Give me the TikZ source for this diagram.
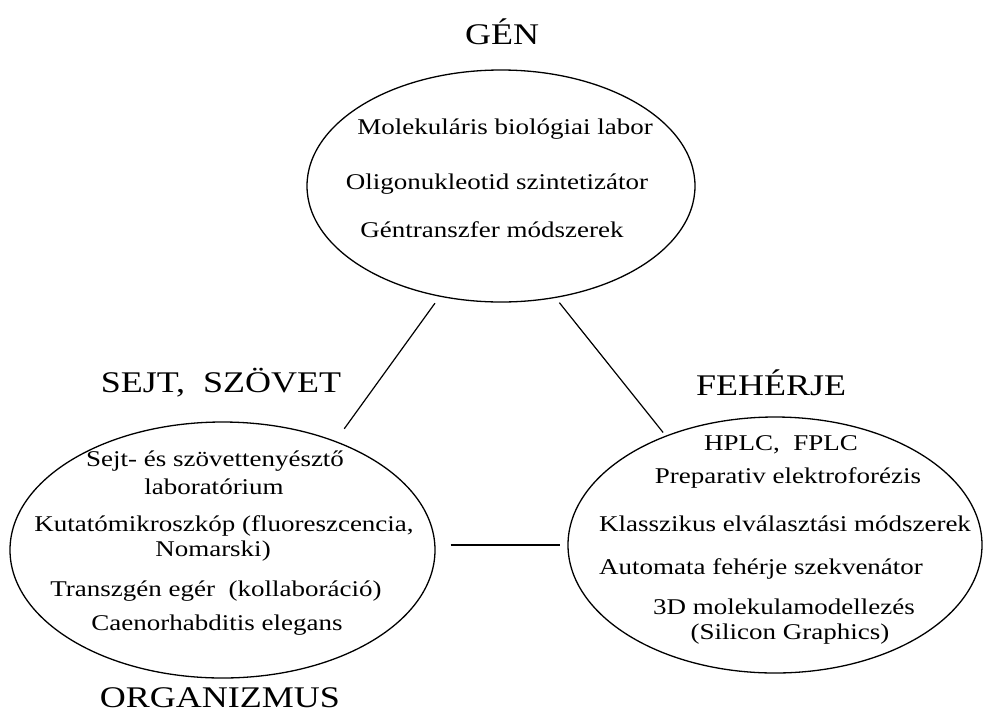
\documentclass[tikz,border=0pt]{standalone}
\usepackage{fontspec}
\setmainfont{Liberation Serif}[FakeStretch=1.2]
\usetikzlibrary{shapes.geometric}

\begin{document}
\begin{tikzpicture}[x=1pt, y=-1pt,
    field/.style={ellipse, draw, line width=1.3pt, inner sep=0pt},
    item/.style={inner sep=0pt, text height=15pt, text depth=0pt, font=\fontsize{22.5}{26}\selectfont},
    title/.style={inner sep=0pt, text height=20pt, text depth=0pt, font=\fontsize{30}{34}\selectfont},
    link/.style={line width=1.2pt}
]
\useasboundingbox (0,0) rectangle (985,713);

\node[field, minimum width=388pt, minimum height=232pt] (gen)  at (501, 186)   {};
\node[field, minimum width=425pt, minimum height=256pt] (sejt) at (222.5, 550) {};
\node[field, minimum width=414pt, minimum height=256pt] (feh)  at (775, 545)   {};

% Titles
\node[title] (gentitle)  at (502, 34)  {GÉN};
\node[title] (sejttitle) at (221, 382) {SEJT,\ \ SZÖVET};
\node[title] (fehtitle)  at (771, 385) {FEHÉRJE};
\node[title] (orgtitle)  at (220, 697) {ORGANIZMUS};

% Gene
\node[item] (gen1) at (505, 127) {Molekuláris biológiai labor};
\node[item] (gen2) at (497, 182) {Oligonukleotid szintetizátor};
\node[item] (gen3) at (492, 230) {Géntranszfer módszerek};

% Cell, tissue
\node[item] (sejt1) at (215, 459) {Sejt- és szövettenyésztő};
\node[item] (sejt2) at (214, 487) {laboratórium};
\node[item] (sejt3) at (224, 524) {Kutatómikroszkóp (fluoreszcencia,};
\node[item] (sejt4) at (213, 549) {Nomarski)};
\node[item] (sejt5) at (216, 589) {Transzgén egér\ \ (kollaboráció)};
\node[item] (sejt6) at (217, 623) {Caenorhabditis elegans};

% Protein
\node[item] (feh1) at (781, 443) {HPLC,\ \ FPLC};
\node[item] (feh2) at (788, 476) {Preparativ elektroforézis};
\node[item] (feh3) at (785, 524) {Klasszikus elválasztási módszerek};
\node[item] (feh4) at (761, 567) {Automata fehérje szekvenátor};
\node[item] (feh5) at (784, 607) {3D molekulamodellezés};
\node[item] (feh6) at (790, 632) {(Silicon Graphics)};

% Edges
\draw[link, shorten <=8pt, shorten >=15pt] (gen.241) -- (sejt.44);
\draw[link, shorten <=6pt, shorten >=4pt] (gen.296) -- (feh.135);
\draw[link, shorten <=15pt, shorten >=7pt] (sejt.east |- feh.west) -- (feh.west);

\end{tikzpicture}
\end{document}
